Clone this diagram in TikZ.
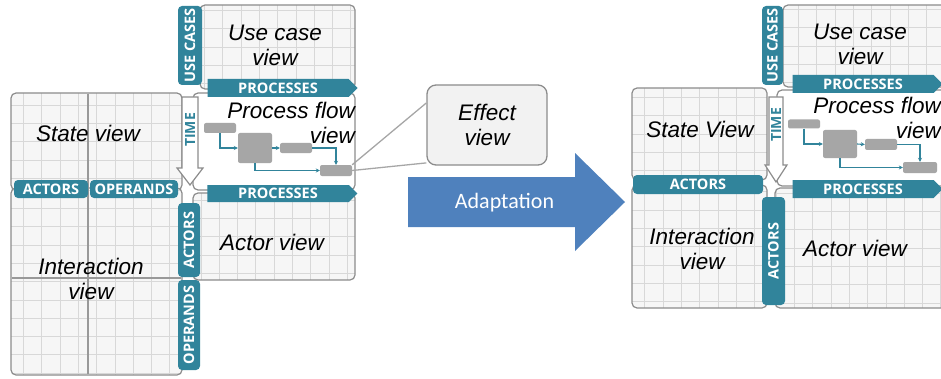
\documentclass[tikz,border=0pt]{standalone}
\usepackage{fontspec}
\setmainfont{Liberation Sans}
\newfontfamily\carlito{Carlito}
\newfontfamily\opensans{Open Sans}
\usetikzlibrary{arrows.meta, shapes.symbols}

\definecolor{tabteal}{RGB}{49,132,155}
\definecolor{boxgrey}{RGB}{140,140,140}
\definecolor{boxfill}{RGB}{246,246,246}
\definecolor{gridgrey}{RGB}{216,216,216}
\definecolor{flowgrey}{RGB}{166,166,166}
\definecolor{adaptblue}{RGB}{79,129,189}
\definecolor{effectfill}{RGB}{242,242,242}

\begin{document}
\begin{tikzpicture}[x=1pt, y=1pt,
    view/.style={draw=boxgrey, line width=1.2pt, fill=boxfill, rounded corners=5pt, inner sep=0pt,
      path picture={\draw[gridgrey, line width=0.6pt, step=18.3pt] (path picture bounding box.south west) grid (path picture bounding box.north east);}},
    flowview/.style={draw=boxgrey, line width=1.2pt, fill=white, rounded corners=5pt, inner sep=0pt},
    tab/.style={fill=tabteal, rounded corners=4pt, text=white, inner sep=0pt, font=\opensans\bfseries\fontsize{14.5}{16}\selectfont},
    vtab/.style={tab, rotate=90},
    process/.style={fill=tabteal, signal, signal to=east, inner sep=0pt, text=white, minimum width=150pt, font=\opensans\bfseries\fontsize{14.5}{16}\selectfont},
    viewtext/.style={font=\fontsize{22.5}{25}\selectfont\itshape, align=center, inner sep=0pt},
    flowbox/.style={fill=flowgrey, rounded corners=2pt, inner sep=0pt},
    flow/.style={tabteal, line width=1.1pt, -{Stealth[length=4pt, width=4pt]}},
    divider/.style={gray!80, line width=1.4pt},
    timearrow/.style={draw=boxgrey, fill=white, line width=1.2pt},
    timetext/.style={text=tabteal, rotate=90, inner sep=0pt, font=\opensans\bfseries\fontsize{14}{16}\selectfont},
    effectline/.style={gray!70, line width=1.3pt}
  ]
  \useasboundingbox (0,0) rectangle (941,378);
  \clip (0,0) rectangle (941,378);

  % Left model: views
  \node[view, minimum width=155pt, minimum height=84pt] (usecaseL) at (277.5,331) {};
  \node[flowview, minimum width=162pt, minimum height=97pt] (processL) at (274,236.5) {};
  \node[view, minimum width=171pt, minimum height=97pt] (stateL) at (96.5,236.5) {};
  \node[view, minimum width=171pt, minimum height=187pt] (interL) at (96.5,96.5) {};
  \node[view, minimum width=162pt, minimum height=87pt] (actorL) at (274,141.5) {};
  \draw[divider] (88,284) -- (88,4);
  \draw[divider] (12,100) -- (181,100);

  % Left model: process flow
  \node[flowbox, minimum width=32pt, minimum height=10pt] (f1L) at (220,250) {};
  \node[flowbox, minimum width=34pt, minimum height=30pt] (f2L) at (255,230) {};
  \node[flowbox, minimum width=32pt, minimum height=10pt] (f3L) at (296,230) {};
  \node[flowbox, minimum width=32pt, minimum height=11pt] (f4L) at (336,207.5) {};
  \draw[flow] (f1L.south) |- (f2L.west);
  \draw[flow] (f2L.east) -- (f3L.west);
  \draw[flow] (f3L.east) -| (f4L.north);
  \draw[flow] (f2L.south) |- (f4L.west);

  % Left model: time axis
  \draw[timearrow] (182,281) -- (198,281) -- (198,210) -- (203,210) -- (190,193) -- (177,210) -- (182,210) -- cycle;
  \node[timetext] (timeL) at (190,248) {TIME};

  % Left model: tabs
  \node[vtab, minimum width=79pt, minimum height=24pt] (usecasesL) at (190,332.5) {USE CASES};
  \node[process, minimum height=18pt] (proctopL) at (278,290) {PROCESSES};
  \node[tab, minimum width=74pt, minimum height=18pt] (actorsL) at (51,189) {ACTORS};
  \node[tab, minimum width=88pt, minimum height=18pt] (operandsL) at (134,189) {OPERANDS};
  \node[process, minimum height=17pt] (proclowL) at (278,184.5) {PROCESSES};
  \node[vtab, minimum width=74pt, minimum height=22pt] (actorsvL) at (189,138) {ACTORS};
  \node[vtab, minimum width=90pt, minimum height=22pt] (operandsvL) at (189,53) {OPERANDS};

  % Left model: texts
  \node[viewtext] (usecasetxtL) at (275,333) {Use case\\view};
  \node[viewtext, align=right, anchor=east] (processtxtL) at (355,255.5) {Process flow\\view};
  \node[viewtext] (statetxtL) at (88,245) {State view};
  \node[viewtext] (intertxtL) at (91,99.5) {Interaction\\view};
  \node[viewtext] (actortxtL) at (272,136) {Actor view};

  % Effect view
  \node[draw=gray!90, line width=1.3pt, fill=effectfill, rounded corners=9pt, minimum width=120pt, minimum height=80pt, viewtext] (effect) at (487,253) {Effect\\view};
  \draw[effectline] (f4L.north east) -- (effect.160);
  \draw[effectline] (f4L.east) -- (effect.212);

  % Adaptation
  \fill[adaptblue] (408,201) -- (575,201) -- (575,225) -- (625,176) -- (575,127) -- (575,151) -- (408,151) -- cycle;
  \node[text=white, font=\carlito\fontsize{22}{24}\selectfont] (adapt) at (504.5,175) {Adaptation};

  % Right model: views
  \node[view, minimum width=177pt, minimum height=82pt] (usecaseR) at (871.5,332) {};
  \node[flowview, minimum width=183pt, minimum height=96pt] (processR) at (868.5,240) {};
  \node[view, minimum width=135pt, minimum height=92pt] (stateR) at (699.5,244) {};
  \node[view, minimum width=135pt, minimum height=123pt] (interR) at (699.5,131.5) {};
  \node[view, minimum width=185pt, minimum height=120pt] (actorR) at (867.5,130) {};

  % Right model: process flow
  \node[flowbox, minimum width=32pt, minimum height=9pt] (f1R) at (804,254) {};
  \node[flowbox, minimum width=34pt, minimum height=28pt] (f2R) at (840,234) {};
  \node[flowbox, minimum width=32pt, minimum height=11pt] (f3R) at (881,233.5) {};
  \node[flowbox, minimum width=34pt, minimum height=11pt] (f4R) at (920,210.5) {};
  \draw[flow] (f1R.south) |- (f2R.west);
  \draw[flow] (f2R.east) -- (f3R.west);
  \draw[flow] (f3R.east) -| (f4R.north);
  \draw[flow] (f2R.south) |- (f4R.west);

  % Right model: time axis
  \draw[timearrow] (769,281) -- (783,281) -- (783,213) -- (787,213) -- (776,196) -- (765,213) -- (769,213) -- cycle;
  \node[timetext] (timeR) at (776,253) {TIME};

  % Right model: tabs
  \node[vtab, minimum width=79pt, minimum height=21pt] (usecasesR) at (772.5,332.5) {USE CASES};
  \node[process, minimum height=18pt] (proctopR) at (863,294) {PROCESSES};
  \node[tab, minimum width=130pt, minimum height=19pt] (actorsR) at (698,193.5) {ACTORS};
  \node[process, minimum height=18pt] (proclowR) at (863,189) {PROCESSES};
  \node[vtab, minimum width=108pt, minimum height=23pt] (actorsvR) at (773.5,127) {ACTORS};

  % Right model: texts
  \node[viewtext] (usecasetxtR) at (860,334) {Use case\\view};
  \node[viewtext, align=right, anchor=east] (processtxtR) at (941,260) {Process flow\\view};
  \node[viewtext] (statetxtR) at (700,249) {State View};
  \node[viewtext] (intertxtR) at (702,129.5) {Interaction\\view};
  \node[viewtext] (actortxtR) at (855,130) {Actor view};
\end{tikzpicture}
\end{document}
